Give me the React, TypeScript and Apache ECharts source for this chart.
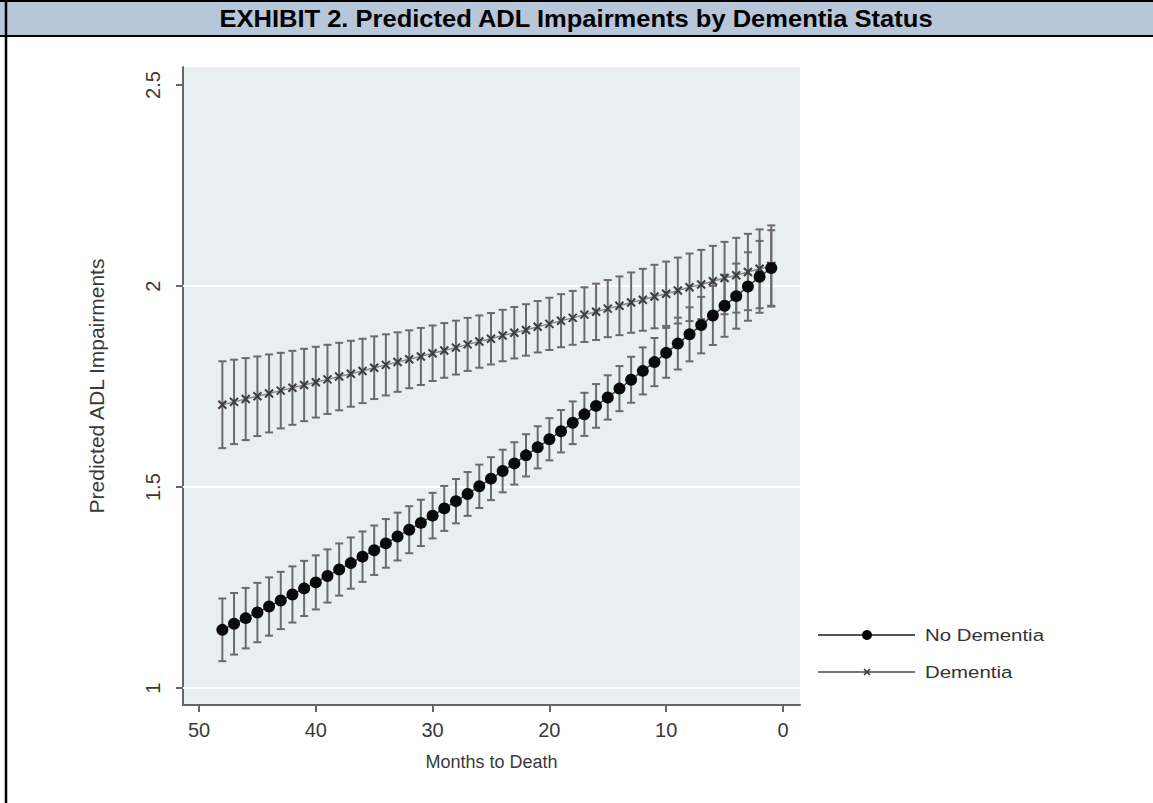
import React, { useEffect, useRef } from "react";
import * as echarts from "echarts";

// Months before death, from 48 down to 1
const months = [
  48, 47, 46, 45, 44, 43, 42, 41, 40, 39, 38, 37, 36, 35, 34, 33,
  32, 31, 30, 29, 28, 27, 26, 25, 24, 23, 22, 21, 20, 19, 18, 17,
  16, 15, 14, 13, 12, 11, 10, 9, 8, 7, 6, 5, 4, 3, 2, 1,
];

// Predicted ADL impairments, no dementia
const noDementia = [
  1.145, 1.160, 1.174, 1.188, 1.203, 1.218, 1.233, 1.248, 1.263, 1.279, 1.295, 1.311, 1.327, 1.343, 1.360, 1.377,
  1.394, 1.411, 1.429, 1.447, 1.465, 1.483, 1.502, 1.521, 1.540, 1.559, 1.579, 1.599, 1.619, 1.639, 1.660, 1.681,
  1.702, 1.723, 1.745, 1.767, 1.789, 1.811, 1.834, 1.857, 1.880, 1.903, 1.927, 1.951, 1.975, 1.999, 2.023, 2.045,
];

// 95% CI half-widths, no dementia
const noDementiaCI = [
  0.078, 0.0766, 0.0752, 0.0738, 0.0725, 0.0712, 0.0699, 0.0686, 0.0673, 0.0661, 0.0649, 0.0637, 0.0626, 0.0615, 0.0605, 0.0595,
  0.0585, 0.0576, 0.0567, 0.0559, 0.0552, 0.0545, 0.0539, 0.0534, 0.053, 0.0527, 0.0525, 0.0524, 0.0525, 0.0527, 0.0531, 0.0536,
  0.0543, 0.0551, 0.0561, 0.0572, 0.0585, 0.0599, 0.062, 0.0645, 0.0672, 0.0702, 0.0735, 0.0771, 0.081, 0.0851, 0.0894, 0.094,
];

// Predicted ADL impairments, dementia
const dementia = [
  1.705, 1.712, 1.719, 1.726, 1.733, 1.740, 1.747, 1.754, 1.761, 1.768, 1.775, 1.782, 1.789, 1.797, 1.804, 1.811,
  1.818, 1.825, 1.833, 1.840, 1.847, 1.855, 1.862, 1.869, 1.877, 1.884, 1.891, 1.899, 1.906, 1.914, 1.921, 1.929,
  1.936, 1.944, 1.951, 1.959, 1.966, 1.974, 1.981, 1.989, 1.997, 2.004, 2.012, 2.020, 2.027, 2.035, 2.043, 2.050,
];

// 95% CI half-widths, dementia
const dementiaCI = [
  0.108, 0.105, 0.102, 0.099, 0.097, 0.094, 0.092, 0.09, 0.088, 0.086, 0.084, 0.082, 0.08, 0.078, 0.076, 0.074,
  0.072, 0.071, 0.069, 0.068, 0.067, 0.066, 0.065, 0.064, 0.064, 0.064, 0.064, 0.064, 0.065, 0.066, 0.067, 0.068,
  0.07, 0.071, 0.073, 0.075, 0.077, 0.079, 0.08, 0.082, 0.084, 0.086, 0.088, 0.09, 0.093, 0.095, 0.098, 0.101,
];

const xTicks = [50, 40, 30, 20, 10, 0];
const yTicks = [1, 1.5, 2, 2.5];
const gridValues = [1, 1.5, 2];

const seriesNames = ["No Dementia", "Dementia"];
const titleText = "EXHIBIT 2. Predicted ADL Impairments by Dementia Status";

const FONT = "Arial, 'Liberation Sans', Helvetica, sans-serif";
const AXIS_COLOR = "#666666";
const BAR_COLOR = "#6a6a6a";
const TEXT_COLOR = "#3a3a3a";

function ciRows(values: number[], half: number[]) {
  return months.map((m, i) => [m, values[i] - half[i], values[i] + half[i]]);
}

function errorBarItem(params: any, api: any) {
  const x = api.value(0);
  const lo = api.coord([x, api.value(1)]);
  const hi = api.coord([x, api.value(2)]);
  const cap = 4;
  const style = { stroke: BAR_COLOR, lineWidth: 2 };
  return {
    type: "group",
    children: [
      { type: "line", shape: { x1: lo[0], y1: lo[1], x2: hi[0], y2: hi[1] }, style },
      { type: "line", shape: { x1: lo[0] - cap, y1: lo[1], x2: lo[0] + cap, y2: lo[1] }, style },
      { type: "line", shape: { x1: hi[0] - cap, y1: hi[1], x2: hi[0] + cap, y2: hi[1] }, style },
    ],
  };
}

const crossPath = "path://M0,0L10,10M10,0L0,10";

export default function App() {
  const ref = useRef<HTMLDivElement>(null);

  useEffect(() => {
    if (!ref.current) return;
    const chart = echarts.init(ref.current, undefined, { renderer: "svg" });

    const legendY = [635, 672];
    const legendText = (i: number) => ({
      type: "text",
      x: 925,
      y: legendY[i],
      scaleX: 1.2,
      style: { text: seriesNames[i], font: `17px ${FONT}`, fill: "#333", textVerticalAlign: "middle" },
      z: 12,
    });

    chart.setOption({
      animation: false,
      backgroundColor: "#ffffff",
      grid: { left: 183, top: 67, width: 617, height: 638, show: true, backgroundColor: "#e8eff1", borderWidth: 0 },
      xAxis: {
        type: "value",
        inverse: true,
        min: -1.46,
        max: 51.37,
        name: "Months to Death",
        nameLocation: "middle",
        nameGap: 48,
        nameTextStyle: { fontFamily: FONT, fontSize: 18, color: TEXT_COLOR },
        axisLine: { show: true, onZero: false, lineStyle: { color: AXIS_COLOR, width: 2 } },
        axisTick: { show: true, length: 7, customValues: xTicks, lineStyle: { color: AXIS_COLOR, width: 2 } },
        axisLabel: { customValues: xTicks, margin: 15, fontFamily: FONT, fontSize: 20, color: TEXT_COLOR },
        splitLine: { show: false },
      },
      yAxis: {
        type: "value",
        min: 0.958,
        max: 2.545,
        name: "Predicted ADL Impairments",
        nameLocation: "middle",
        nameGap: 76,
        nameRotate: 90,
        nameTextStyle: { fontFamily: FONT, fontSize: 21, color: TEXT_COLOR },
        axisLine: { show: true, onZero: false, lineStyle: { color: AXIS_COLOR, width: 2 } },
        axisTick: { show: true, length: 7, customValues: yTicks, lineStyle: { color: AXIS_COLOR, width: 2 } },
        axisLabel: {
          customValues: yTicks,
          rotate: 90,
          margin: 20,
          fontFamily: FONT,
          fontSize: 20,
          color: TEXT_COLOR,
          align: "center",
          verticalAlign: "bottom",
        },
        splitLine: { show: false },
      },
      series: [
        {
          type: "line",
          data: [],
          silent: true,
          z: 1,
          markLine: {
            silent: true,
            z: 1,
            symbol: "none",
            label: { show: false },
            lineStyle: { color: "#ffffff", width: 2, type: "solid" },
            data: gridValues.map((v) => ({ yAxis: v })),
          },
        },
        {
          name: seriesNames[1] + " CI",
          type: "custom",
          renderItem: errorBarItem,
          data: ciRows(dementia, dementiaCI),
          encode: { x: 0, y: [1, 2] },
          z: 2,
        },
        {
          name: seriesNames[0] + " CI",
          type: "custom",
          renderItem: errorBarItem,
          data: ciRows(noDementia, noDementiaCI),
          encode: { x: 0, y: [1, 2] },
          z: 2,
        },
        {
          name: seriesNames[1],
          type: "line",
          data: months.map((m, i) => [m, dementia[i]]),
          symbol: crossPath,
          symbolSize: 8,
          itemStyle: { color: "#777777", borderColor: "#3c3c3c", borderWidth: 2 },
          lineStyle: { color: "#8a8a8a", width: 1.5 },
          z: 3,
        },
        {
          name: seriesNames[0],
          type: "line",
          data: months.map((m, i) => [m, noDementia[i]]),
          symbol: "circle",
          symbolSize: 12,
          itemStyle: { color: "#0a0a0a", borderWidth: 0 },
          lineStyle: { color: "#444444", width: 1.5 },
          z: 4,
        },
      ],
      graphic: [
        { type: "rect", shape: { x: 0, y: 0, width: 1153, height: 36 }, style: { fill: "#b8c6d9" }, z: 10 },
        { type: "line", shape: { x1: 0, y1: 1, x2: 1153, y2: 1 }, style: { stroke: "#000", lineWidth: 2 }, z: 11 },
        { type: "line", shape: { x1: 0, y1: 36, x2: 1153, y2: 36 }, style: { stroke: "#000", lineWidth: 2 }, z: 11 },
        { type: "line", shape: { x1: 6, y1: 0, x2: 6, y2: 803 }, style: { stroke: "#000", lineWidth: 2.5 }, z: 11 },
        {
          type: "text",
          x: 576,
          y: 19,
          scaleX: 1.11,
          style: {
            text: titleText,
            font: `bold 23px ${FONT}`,
            fill: "#000",
            textAlign: "center",
            textVerticalAlign: "middle",
          },
          z: 12,
        },
        // legend: No Dementia
        { type: "line", shape: { x1: 818, y1: legendY[0], x2: 915, y2: legendY[0] }, style: { stroke: "#555", lineWidth: 2 }, z: 12 },
        { type: "circle", shape: { cx: 867, cy: legendY[0], r: 5 }, style: { fill: "#000" }, z: 13 },
        legendText(0),
        // legend: Dementia
        { type: "line", shape: { x1: 818, y1: legendY[1], x2: 915, y2: legendY[1] }, style: { stroke: "#777", lineWidth: 2 }, z: 12 },
        { type: "line", shape: { x1: 864, y1: legendY[1] - 3, x2: 870, y2: legendY[1] + 3 }, style: { stroke: "#333", lineWidth: 1.5 }, z: 13 },
        { type: "line", shape: { x1: 870, y1: legendY[1] - 3, x2: 864, y2: legendY[1] + 3 }, style: { stroke: "#333", lineWidth: 1.5 }, z: 13 },
        legendText(1),
      ],
    });

    return () => chart.dispose();
  }, []);

  return (
    <div
      ref={ref}
      style={{ position: "fixed", left: 0, top: 0, width: 1153, height: 803, background: "#fff" }}
    />
  );
}
